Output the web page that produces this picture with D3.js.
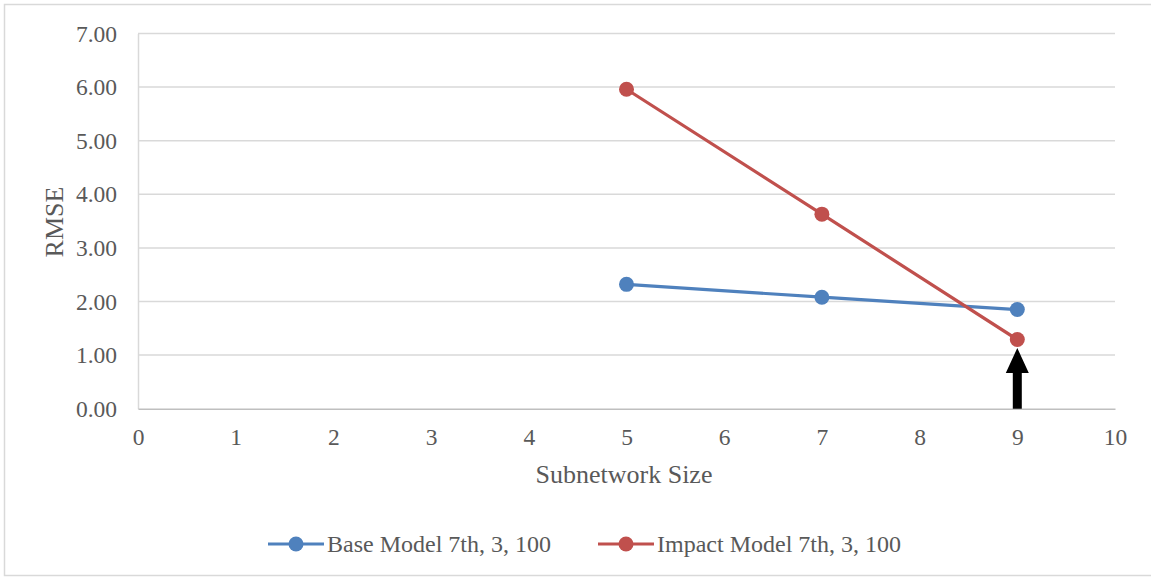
<!DOCTYPE html>
<html>
<head>
<meta charset="utf-8">
<script src="https://cdn.jsdelivr.net/npm/d3@7"></script>
<style>
  body { margin: 0; background: #fff; }
  text { font-family: "Liberation Serif", "Times New Roman", serif; fill: #595959; }
</style>
</head>
<body>
<div id="chart"></div>
<script>
// Data
const xTicks = [0, 1, 2, 3, 4, 5, 6, 7, 8, 9, 10];
const yTicks = [0, 1, 2, 3, 4, 5, 6, 7];
const subnetSizes = [5, 7, 9];
const baseRmse = [2.32, 2.08, 1.85];
const impactRmse = [5.96, 3.63, 1.29];
const seriesNames = ['Base Model 7th, 3, 100', 'Impact Model 7th, 3, 100'];
const seriesColors = ['#4f81bd', '#c0504d'];
const arrowAt = 9;

const svgWidth = 1151;
const svgHeight = 577;

const svg = d3.select('#chart')
    .append('svg')
    .attr('width', svgWidth)
    .attr('height', svgHeight);

// chart border
svg.append('rect')
    .attr('x', 4.5)
    .attr('y', 4.5)
    .attr('width', 1150)
    .attr('height', 571)
    .attr('fill', 'none')
    .attr('stroke', '#d9d9d9')
    .attr('stroke-width', 1.5);

// Scales
const xScale = d3.scaleLinear()
    .domain([0, 10])
    .range([138, 1115]);

const yScale = d3.scaleLinear()
    .domain([0, 7])
    .range([408.7, 33.5]);

// Gridlines
svg.append('g')
    .selectAll('line')
    .data(yTicks.filter(d => d > 0))
    .join('line')
    .attr('x1', xScale(0))
    .attr('x2', xScale(10))
    .attr('y1', d => yScale(d))
    .attr('y2', d => yScale(d))
    .attr('stroke', '#d9d9d9')
    .attr('stroke-width', 1.5);

// Y axis
const yAxis = d3.axisLeft(yScale)
    .tickValues(yTicks)
    .tickFormat(d3.format('.2f'))
    .tickSize(0)
    .tickPadding(21);

const yG = svg.append('g')
    .attr('transform', `translate(${xScale(0)}, 0)`)
    .call(yAxis);
yG.select('.domain').attr('stroke', '#d9d9d9').attr('stroke-width', 1.5);
yG.selectAll('text')
    .style('font-family', '"Liberation Serif", serif')
    .style('font-size', '23.5px')
    .attr('fill', '#595959');

// X axis
const xAxis = d3.axisBottom(xScale)
    .tickValues(xTicks)
    .tickFormat(d3.format('d'))
    .tickSize(0)
    .tickPadding(20);

const xG = svg.append('g')
    .attr('transform', `translate(0, ${yScale(0)})`)
    .call(xAxis);
xG.select('.domain').attr('stroke', '#bfbfbf').attr('stroke-width', 1.5);
xG.selectAll('text')
    .style('font-family', '"Liberation Serif", serif')
    .style('font-size', '23.5px')
    .attr('fill', '#595959');

// Axis titles
svg.append('text')
    .attr('x', 624)
    .attr('y', 483)
    .attr('text-anchor', 'middle')
    .style('font-size', '26px')
    .text('Subnetwork Size');

svg.append('text')
    .attr('transform', 'rotate(-90)')
    .attr('x', -222)
    .attr('y', 63)
    .attr('text-anchor', 'middle')
    .style('font-size', '26px')
    .text('RMSE');

// Lines and markers
const series = [baseRmse, impactRmse];
const line = d3.line()
    .x((d, i) => xScale(subnetSizes[i]))
    .y(d => yScale(d));

series.forEach((vals, s) => {
    svg.append('path')
        .datum(vals)
        .attr('d', line)
        .attr('fill', 'none')
        .attr('stroke', seriesColors[s])
        .attr('stroke-width', 3.2);

    svg.append('g')
        .selectAll('circle')
        .data(vals)
        .join('circle')
        .attr('cx', (d, i) => xScale(subnetSizes[i]))
        .attr('cy', d => yScale(d))
        .attr('r', 7.5)
        .attr('fill', seriesColors[s]);
});

// Arrow pointing at the best point
const ax = xScale(arrowAt);
const tipY = 348;
const headY = 373;
const baseY = yScale(0);
svg.append('path')
    .attr('d', `M${ax},${tipY} L${ax + 11.5},${headY} L${ax + 4.5},${headY} L${ax + 4.5},${baseY} L${ax - 4.5},${baseY} L${ax - 4.5},${headY} L${ax - 11.5},${headY} Z`)
    .attr('fill', '#000');

// Legend
const legendItems = [
    { x: 268, name: seriesNames[0], color: seriesColors[0] },
    { x: 598, name: seriesNames[1], color: seriesColors[1] }
];
const legendY = 544;
const legend = svg.append('g')
    .selectAll('g')
    .data(legendItems)
    .join('g')
    .attr('transform', d => `translate(${d.x}, ${legendY})`);

legend.append('line')
    .attr('x1', 0)
    .attr('x2', 56)
    .attr('stroke', d => d.color)
    .attr('stroke-width', 3.2);

legend.append('circle')
    .attr('cx', 28)
    .attr('r', 7.5)
    .attr('fill', d => d.color);

legend.append('text')
    .attr('x', 59)
    .attr('y', 8)
    .style('font-size', '24px')
    .text(d => d.name);
</script>
</body>
</html>
